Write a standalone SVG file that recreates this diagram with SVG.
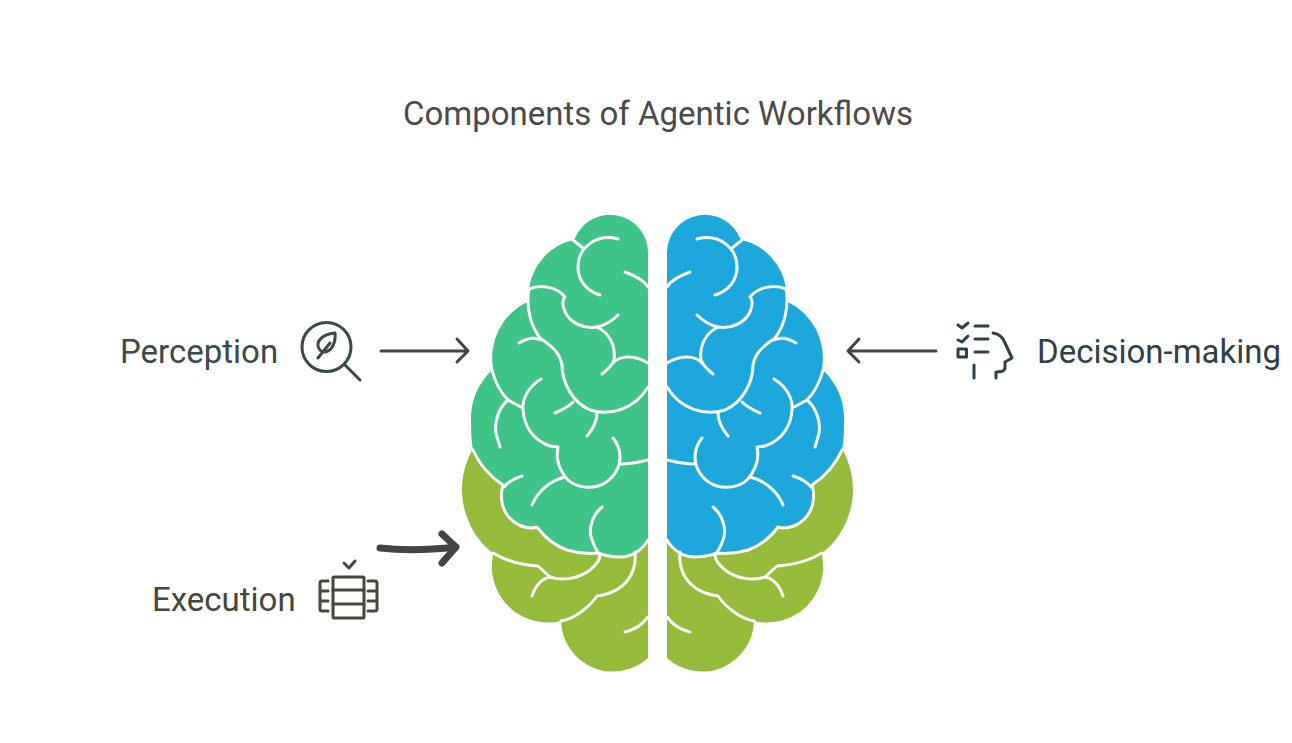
<svg xmlns="http://www.w3.org/2000/svg" width="1292" height="743" viewBox="0 0 1292 743">
<style>
text{font-family:Roboto,"Liberation Sans",sans-serif}
.title{font-size:33px;fill:#4A4A4A}
.label{font-size:33px}
.icon{fill:none;stroke-width:3;stroke-linecap:round;stroke-linejoin:round}
.arrow{fill:none;stroke:#444;stroke-width:3;stroke-linecap:round;stroke-linejoin:round}
.vein{fill:none;stroke:#fff;stroke-width:3;stroke-linecap:round;stroke-linejoin:round}
.olive{fill:#94BB3A}
.green{fill:#3EC487}
.blue{fill:#1CA8DD}
</style>
<defs>
<path id="lower" d="M648 520V658A52 52 0 0 1 561 621A56 56 0 0 1 492 563L493 553C475 540 462 515 462 490C462 475 466 462 472 450L500 440L648 500Z"/>
<path id="upper" d="M648 252V540C642 550 632 557 620 557C613 557 606 556 598 553C588 554 577 553 567 550C556 546 545 538 537 527C527 530 515 525 508 516C501 507 500 495 503 485C491 477 480 466 473 450C471 440 471 430 471 418C471 400 478 384 492 370L493 368A62 62 0 0 1 527 302L529 289A58 58 0 0 1 573 240L575 238A38 38 0 0 1 648 252Z"/>
<g id="veins">
<path d="M618 239C596 233 578 248 578 267C578 281 587 291 600 295"/>
<path d="M573 240L583 248"/>
<path d="M625 272C636 276 644 280 648 287"/>
<path d="M529 289C541 284 557 287 565 297C561 301 563 307 565 312C571 324 585 329 597 327C606 325 613 320 618 315"/>
<path d="M597 327C609 333 616 345 614 360C612 366 607 370 602 374"/>
<path d="M648 363C635 355 620 355 613 363"/>
<path d="M529 289C526 306 530 325 540 338C550 345 560 352 562 365C562 382 572 402 590 410C610 416 634 410 648 387"/>
<path d="M519 343C527 338 535 337 541 340"/>
<path d="M555 413C562 410 568 407 573 402"/>
<path d="M541 379C528 387 522 399 523 410C524 425 532 440 550 446L558 447C556 456 558 468 567 479C575 487 588 489 598 486C611 482 620 470 620 457C620 449 617 443 613 438"/>
<path d="M492 370C495 382 500 392 508 400L521 407"/>
<path d="M508 400C498 408 493 425 497 437L500 447"/>
<path d="M597 413C597 422 592 430 587 436"/>
<path d="M620 464C630 464 640 462 648 460"/>
<path d="M522 476C515 478 509 481 504 487"/>
<path d="M565 477C552 480 538 490 532 505"/>
<path d="M602 507C592 515 588 530 592 540C594 546 596 550 599 554"/>
<path d="M473 450C480 466 491 477 503 485C500 495 501 507 508 516C515 525 527 530 537 527C545 538 556 546 567 550C577 553 588 554 598 553C606 556 613 557 620 557C632 557 642 550 648 540"/>
<path d="M493 553C506 561 522 565 538 566L550 577C562 581 578 579 590 570C596 565 600 560 600 555"/>
<path d="M550 577C541 579 535 587 532 596"/>
<path d="M635 552C636 561 634 569 631 575C624 588 612 594 597 596C590 606 575 619 561 621"/>
<path d="M648 617C642 625 634 630 625 632"/>
</g>
</defs>

<text id="title" class="title" x="403" y="124.500">Components of Agentic Workflows</text>

<g id="brain-left">
<use href="#lower" class="olive"/>
<use href="#upper" class="green"/>
<use href="#veins" class="vein"/>
</g>
<g id="brain-right" transform="translate(1315 0) scale(-1 1)">
<use href="#lower" class="olive"/>
<use href="#upper" class="blue"/>
<use href="#veins" class="vein"/>
</g>

<g id="perception">
<text class="label" x="120" y="362.500" fill="#3A4A48">Perception</text>
<g class="icon" stroke="#3A4A48">
<circle cx="326.500" cy="347" r="24.500"/>
<path d="M345 365L360 380"/>
<path d="M335 333C325 334 317 339 318 346C319 350 321 352 325 352C332 351 336 342 335 333Z"/>
<path d="M318 358L330 343"/>
</g>
</g>

<g id="decision-making">
<text class="label" x="1037" y="362.500" fill="#2E4048">Decision-making</text>
<g class="icon" stroke="#2E4048">
<path d="M958 325L962 328L968 323M975 326H988M958 340L962 342L968 336M975 339H988M975 352H988M974 365V378"/>
<rect x="958" y="349" width="8.500" height="8"/>
<path d="M993 333C999 334 1003 337 1005 343L1012 358L1005 362V368C1005 371 1002 372 996 372V378"/>
</g>
</g>

<g id="execution">
<text class="label" x="152" y="610.500" fill="#44483A">Execution</text>
<g class="icon" stroke="#44483A">
<path d="M344 563L349 568L355 561"/>
<rect x="333" y="577" width="31" height="41" rx="1"/>
<path d="M333 590H364M333 604H364"/>
<path d="M328 581H322Q320 581 320 583V609Q320 611 322 611H328M320 591H328M320 601H328"/>
<path d="M368 581H375Q377 581 377 583V609Q377 611 375 611H368M368 591H377M368 601H377"/>
</g>
</g>

<g id="connectors">
<path class="arrow" d="M381 351H468M457 339L468 351L457 362"/>
<path class="arrow" d="M936 351H848M859 339L848 351L859 362"/>
<path class="arrow" style="stroke-width:7" d="M380 548C405 551 430 550 456 547M442 534L456 547L442 563"/>
</g>
</svg>
